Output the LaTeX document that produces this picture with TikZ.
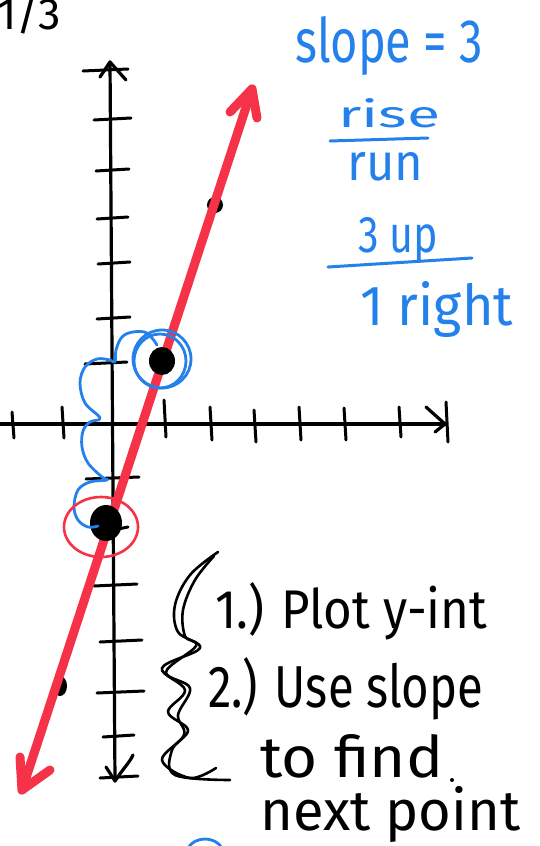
\documentclass[tikz,border=0pt]{standalone}
\usepackage{fontspec}
\setmainfont{Fira Sans}
\usepackage{graphicx}
\definecolor{penred}{RGB}{245,50,72}
\definecolor{penblue}{RGB}{36,128,235}
\newcommand{\fitbox}[3]{\resizebox{#1pt}{#2pt}{#3}}
\begin{document}
\begin{tikzpicture}[x=1pt,y=-1pt,
  axis/.style={line width=3.2pt, line cap=round, line join=round, black},
  tickmark/.style={line width=3pt, line cap=round, black},
  redpen/.style={line width=9pt, line cap=round, line join=round, draw=penred},
  bluepen/.style={line width=2.8pt, line cap=round, line join=round, draw=penblue},
  blackpen/.style={line width=2.6pt, line cap=round, line join=round, draw=black},
  hand/.style={inner sep=0pt, anchor=base west}]
\useasboundingbox (0,0) rectangle (539,846);

% top-left fragment
\node[hand] (frag) at (-3,29) {\fitbox{64}{36}{1/3}};

% axes
\coordinate (ytop) at (110,62);
\coordinate (ybot) at (115,781);
\coordinate (xleft) at (-5,424);
\coordinate (xright) at (445,424);
\draw[axis] (ytop) -- (ybot);
\draw[axis] (xleft) -- (xright);
\draw[axis] (100,77) -- (ytop) -- (126,80);
\draw[axis] (106,767) -- (ybot) .. controls (122,770) and (130,762) .. (133,755);
\draw[axis] (426,407) -- (xright) -- (435,432);

% y ticks
\foreach \yy/\a/\b in {70/83/128, 119/94/131, 170/96/129, 218/97/128, 263/98/130,
  318/97/130, 363/85/127, 478/86/139, 528/118/128, 585/94/137, 641/100/142,
  692/97/144, 736/103/134, 777/100/138}
  \draw[tickmark] (\a,\yy+1) -- (\b,\yy-1);
% x ticks
\foreach \xx/\a/\b in {13/412/438, 63/407/438, 165/400/437, 211/407/440, 255/410/442,
  300/407/440, 345/408/440, 400/407/437, 447/402/442}
  \draw[tickmark] (\xx-1,\a) -- (\xx+1,\b);

% small dots behind the line
\fill (215,205) ellipse [x radius=8pt, y radius=8pt];
\fill (60,686) ellipse [x radius=7pt, y radius=10pt];

% red line with arrowheads
\draw[redpen] (252,89) -- (22,790);
\draw[redpen] (230,112) -- (252,89) -- (257,118);
\draw[redpen] (20,757) -- (22,790) -- (50,770);

% big dots
\fill (162,361) ellipse [x radius=13pt, y radius=14pt];
\fill (106,523) ellipse [x radius=16pt, y radius=18pt];

% blue circle and squiggle
\draw[bluepen] (162,359) ellipse [x radius=29pt, y radius=29pt];
\draw[bluepen] (160,361) ellipse [x radius=26pt, y radius=27pt];
\draw[bluepen] plot[smooth, tension=0.6] coordinates {
  (157,345) (147,333) (133,332) (122,337) (116,350) (115,362)
  (110,360) (97,359) (85,367) (80,383) (85,403) (100,418)
  (90,422) (83,431) (82,447) (88,463) (102,477) (107,480)
  (90,482) (78,490) (74,507) (78,520) (88,527) (98,526)};

% red circle
\draw[line width=2.6pt, draw=penred, line cap=round]
  (101,527) ellipse [x radius=37pt, y radius=30pt];

% blue text
\node[hand, text=penblue] (slope) at (295,62) {\fitbox{188}{46}{slope = 3}};
\node[hand, text=penblue] (rise) at (338,127) {\fitbox{102}{29}{rise}};
\draw[bluepen, line width=3pt] (330,141) -- (428,138);
\node[hand, text=penblue] (run) at (347,180) {\fitbox{76}{28}{run}};
\node[hand, text=penblue] (up) at (358,252) {\fitbox{80}{35}{3 up}};
\draw[bluepen, line width=3pt] (328,267) -- (472,258);
\node[hand, text=penblue] (right) at (360,325) {\fitbox{153}{44}{1 right}};

% brace
\draw[blackpen] plot[smooth, tension=0.6] coordinates {
  (218,552) (190,575) (175,605) (178,632) (200,648) (162,668) (185,690)
  (168,712) (188,730) (172,750) (175,775) (230,780)};
\draw[blackpen] plot[smooth, tension=0.6] coordinates {
  (214,556) (195,580) (183,610) (185,636) (196,646) (166,672) (190,688)
  (178,715) (184,735) (162,760) (190,778) (216,768)};

% black text
\node[hand] (s1) at (215,628) {\fitbox{272}{46}{1.) Plot y-int}};
\node[hand] (s2) at (208,707) {\fitbox{275}{50}{2.) Use slope}};
\node[hand] (s3) at (260,777) {\fitbox{183}{43}{to find}};
\fill (452,780) circle [radius=2pt];
\node[hand] (s4) at (260,830) {\fitbox{260}{44}{next point}};

% blue arc at the bottom edge
\draw[bluepen] (188,848) .. controls (195,836) and (215,836) .. (222,848);
\end{tikzpicture}
\end{document}
